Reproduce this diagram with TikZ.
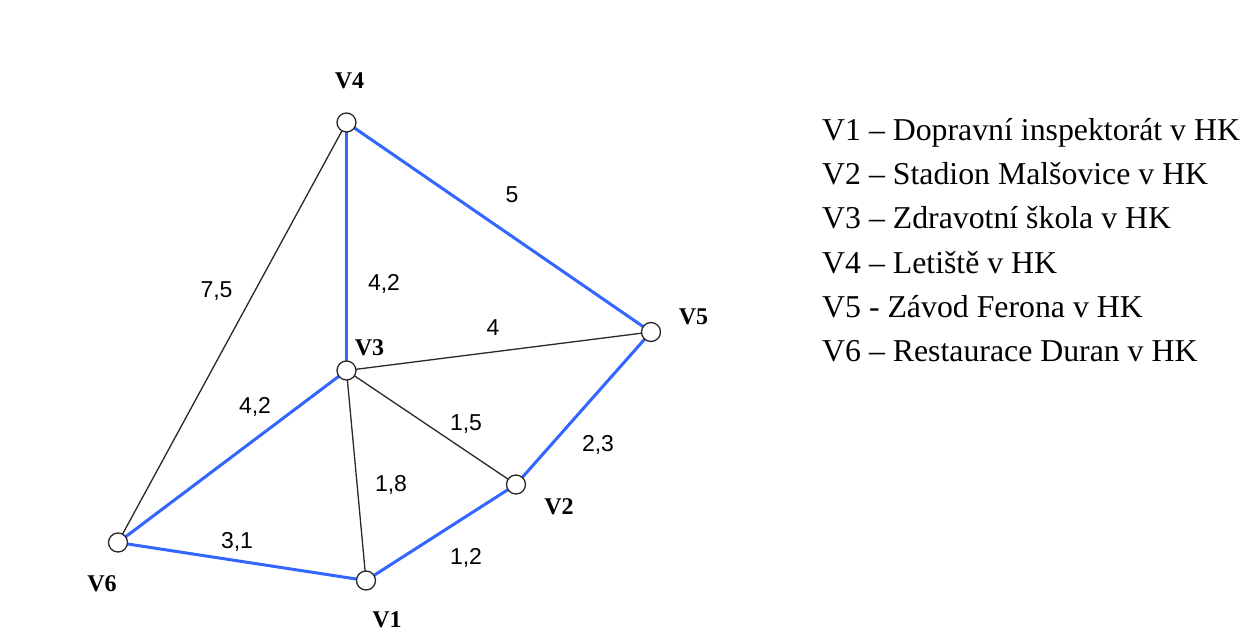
\documentclass[tikz,border=0pt]{standalone}
\usepackage{fontspec}
\setmainfont{Liberation Serif}
\newfontfamily\edgefont{Liberation Sans}
\definecolor{edgeblue}{RGB}{51,102,255}
\definecolor{edgegray}{RGB}{40,40,40}
\tikzset{
  vertex/.style={circle, draw=edgegray, line width=1.3pt, fill=white, minimum size=19pt, inner sep=0pt},
  vlabel/.style={inner sep=0pt, font=\fontsize{24}{26}\selectfont\bfseries},
  wlabel/.style={inner sep=0pt, text depth=0pt, font=\edgefont\fontsize{23}{25}\selectfont},
  legend/.style={inner sep=0pt, anchor=base west, font=\fontsize{31.8}{36}\selectfont},
  blueedge/.style={draw=edgeblue, line width=3pt},
  blackedge/.style={draw=edgegray, line width=1.3pt},
}
\begin{document}
\begin{tikzpicture}[x=1pt, y=-1pt]
\useasboundingbox (0,0) rectangle (1245,629);
\fill[white] (0,0) rectangle (1245,629);
% vertices
\coordinate (p4) at (346.5,122.5);
\coordinate (p3) at (346.5,370.5);
\coordinate (p5) at (651,332);
\coordinate (p2) at (516,484.5);
\coordinate (p1) at (366,580.5);
\coordinate (p6) at (118,542.5);
% edges
\draw[blackedge] (p4) -- (p6);
\draw[blackedge] (p3) -- (p5);
\draw[blackedge] (p3) -- (p2);
\draw[blackedge] (p3) -- (p1);
\draw[blueedge] (p4) -- (p3);
\draw[blueedge] (p4) -- (p5);
\draw[blueedge] (p5) -- (p2);
\draw[blueedge] (p2) -- (p1);
\draw[blueedge] (p1) -- (p6);
\draw[blueedge] (p6) -- (p3);
\node[vertex] (v4) at (p4) {};
\node[vertex] (v3) at (p3) {};
\node[vertex] (v5) at (p5) {};
\node[vertex] (v2) at (p2) {};
\node[vertex] (v1) at (p1) {};
\node[vertex] (v6) at (p6) {};
% vertex labels
\node[vlabel] (l4) at (349.5,80.5) {V4};
\node[vlabel] (l3) at (369.5,348) {V3};
\node[vlabel] (l5) at (693.5,316.5) {V5};
\node[vlabel] (l2) at (559,506.5) {V2};
\node[vlabel] (l1) at (387,620) {V1};
\node[vlabel] (l6) at (102,583.5) {V6};
% weights
\node[wlabel] (w45) at (512,195) {5};
\node[wlabel] (w43) at (384,282) {4,2};
\node[wlabel] (w46) at (216.5,290) {7,5};
\node[wlabel] (w35) at (493,328) {4};
\node[wlabel] (w36) at (255,405) {4,2};
\node[wlabel] (w32) at (466,423) {1,5};
\node[wlabel] (w52) at (598,443) {2,3};
\node[wlabel] (w31) at (391,483) {1,8};
\node[wlabel] (w16) at (237,540) {3,1};
\node[wlabel] (w21) at (466,556) {1,2};
% legend
\node[legend] (t1) at (822,140) {V1 – Dopravní inspektorát v HK};
\node[legend] (t2) at (822,184) {V2 – Stadion Malšovice v HK};
\node[legend] (t3) at (822,228) {V3 – Zdravotní škola v HK};
\node[legend] (t4) at (822,273) {V4 – Letiště v HK};
\node[legend] (t5) at (822,317) {V5 - Závod Ferona v HK};
\node[legend] (t6) at (822,361) {V6 – Restaurace Duran v HK};
\end{tikzpicture}
\end{document}
